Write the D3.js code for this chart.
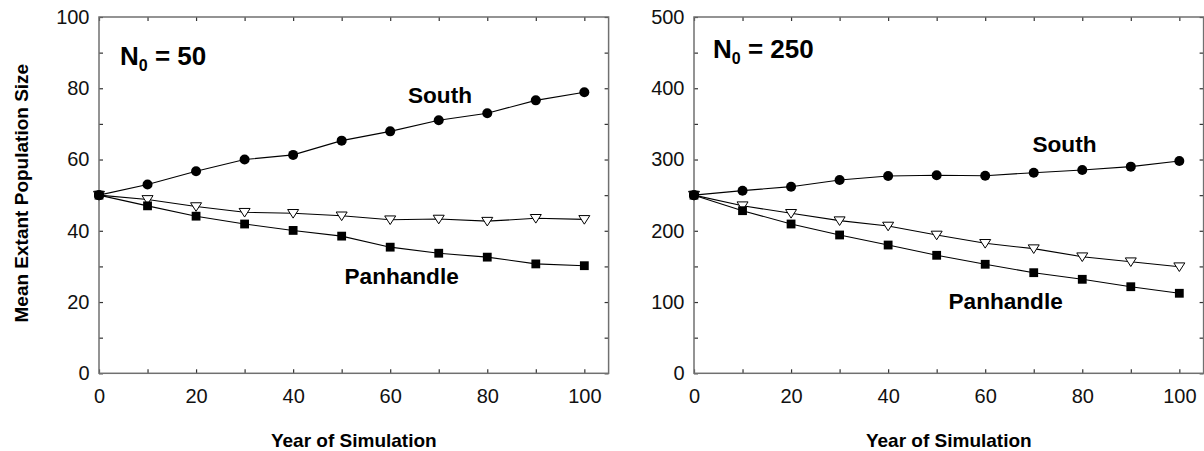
<!DOCTYPE html>
<html>
<head>
<meta charset="utf-8">
<script src="https://cdn.jsdelivr.net/npm/d3@7"></script>
<style>
  html, body { margin: 0; padding: 0; background: #fff; }
  svg { display: block; font-family: "Liberation Sans", Arial, Helvetica, sans-serif; }
</style>
</head>
<body>
<svg id="chart" width="1204" height="451"></svg>
<script>
// Simulation years (x values)
const years = [0, 10, 20, 30, 40, 50, 60, 70, 80, 90, 100];

// Mean extant population size, starting population N0 = 50
const south50 = [50, 53.0, 56.7, 60.0, 61.3, 65.3, 67.9, 71.0, 73.0, 76.6, 78.9];
const mid50   = [50, 48.8, 46.8, 45.2, 44.9, 44.2, 43.1, 43.3, 42.7, 43.5, 43.2];
const pan50   = [50, 47.0, 44.1, 41.9, 40.1, 38.5, 35.4, 33.7, 32.6, 30.7, 30.2];

// Mean extant population size, starting population N0 = 250
const south250 = [250, 256.3, 261.9, 271.3, 276.9, 277.9, 277.3, 281.5, 285.3, 290.0, 298.0];
const mid250   = [250, 235.2, 224.5, 214.2, 206.7, 194.1, 182.4, 174.9, 163.6, 156.6, 149.6];
const pan250   = [250, 228.2, 209.5, 194.1, 180.0, 165.6, 153.0, 141.2, 131.9, 121.5, 112.3];

// Tick values
const xTicks = [0, 10, 20, 30, 40, 50, 60, 70, 80, 90, 100];
const xTickLabels = [0, 20, 40, 60, 80, 100];
const yTicks50 = [0, 10, 20, 30, 40, 50, 60, 70, 80, 90, 100];
const yTickLabels50 = [0, 20, 40, 60, 80, 100];
const yTicks250 = [0, 50, 100, 150, 200, 250, 300, 350, 400, 450, 500];
const yTickLabels250 = [0, 100, 200, 300, 400, 500];

const svg = d3.select("#chart");

const panels = [
  {
    left: 99, right: 608.6, top: 17, bottom: 373.3,
    yMax: 100, yTicks: yTicks50, yLabels: yTickLabels50,
    series: [south50, mid50, pan50],
    n0: "50", n0Pos: [120, 65],
    southPos: [408, 103], panPos: [344.5, 284],
    yTitle: true
  },
  {
    left: 694, right: 1203.6, top: 17, bottom: 373.3,
    yMax: 500, yTicks: yTicks250, yLabels: yTickLabels250,
    series: [south250, mid250, pan250],
    n0: "250", n0Pos: [713, 58.3],
    southPos: [1032.5, 151.5], panPos: [948.5, 309.3],
    yTitle: false
  }
];

const tickLen = 4;
const frameColor = "#707070";

panels.forEach(p => {
  const x = d3.scaleLinear().domain([0, 105]).range([p.left, p.right]);
  const y = d3.scaleLinear().domain([0, p.yMax]).range([p.bottom, p.top]);
  const g = svg.append("g");

  // Inward-pointing ticks on all four sides
  const fmtX = d => xTickLabels.includes(d) ? d : "";
  const fmtY = d => p.yLabels.includes(d) ? d : "";

  const axB = g.append("g").attr("transform", `translate(0,${p.bottom})`)
    .call(d3.axisBottom(x).tickValues(xTicks).tickSize(-tickLen).tickPadding(16).tickFormat(fmtX));
  const axT = g.append("g").attr("transform", `translate(0,${p.top})`)
    .call(d3.axisTop(x).tickValues(xTicks).tickSize(-tickLen).tickFormat(""));
  const axL = g.append("g").attr("transform", `translate(${p.left},0)`)
    .call(d3.axisLeft(y).tickValues(p.yTicks).tickSize(-tickLen).tickPadding(9.5).tickFormat(fmtY));
  const axR = g.append("g").attr("transform", `translate(${p.right},0)`)
    .call(d3.axisRight(y).tickValues(p.yTicks).tickSize(-tickLen).tickFormat(""));

  [axB, axT, axL, axR].forEach(a => {
    a.select(".domain").remove();
    a.selectAll(".tick line").attr("stroke", "#333").attr("stroke-width", 1.2);
    a.selectAll(".tick text").attr("font-size", 20).attr("fill", "#111")
      .attr("font-family", "'Liberation Sans', Arial, sans-serif");
  });

  // Frame
  g.append("rect")
    .attr("x", p.left).attr("y", p.top)
    .attr("width", p.right - p.left).attr("height", p.bottom - p.top)
    .attr("fill", "none").attr("stroke", frameColor).attr("stroke-width", 1.5);

  // Lines
  const line = d3.line().x((d, i) => x(years[i])).y(d => y(d));
  p.series.forEach(s => {
    g.append("path").datum(s).attr("d", line)
      .attr("fill", "none").attr("stroke", "#000").attr("stroke-width", 1.1);
  });

  // South: filled circles
  g.selectAll(".south").data(p.series[0]).join("circle")
    .attr("cx", (d, i) => x(years[i])).attr("cy", d => y(d))
    .attr("r", 5).attr("fill", "#000");

  // Middle series: open downward triangles
  g.selectAll(".mid").data(p.series[1]).join("path")
    .attr("transform", (d, i) => `translate(${x(years[i])},${y(d)})`)
    .attr("d", "M-5.5,-3.8L5.5,-3.8L0,4.8Z")
    .attr("fill", "#fff").attr("stroke", "#000").attr("stroke-width", 1);

  // Panhandle: filled squares
  g.selectAll(".pan").data(p.series[2]).join("rect")
    .attr("x", (d, i) => x(years[i]) - 4.4).attr("y", d => y(d) - 4.4)
    .attr("width", 8.8).attr("height", 8.8).attr("fill", "#000");

  // Re-draw the shared starting point as a circle on top
  g.append("circle").attr("cx", x(years[0])).attr("cy", y(p.series[0][0]))
    .attr("r", 5).attr("fill", "#000");

  // N0 label
  const n0 = g.append("text").attr("x", p.n0Pos[0]).attr("y", p.n0Pos[1])
    .attr("font-size", 26).attr("font-weight", "bold").attr("fill", "#000");
  n0.append("tspan").text("N");
  n0.append("tspan").text("0").attr("font-size", 16).attr("dy", 6);
  n0.append("tspan").text(" = " + p.n0).attr("dy", -6);

  // Series labels
  g.append("text").attr("x", p.southPos[0]).attr("y", p.southPos[1])
    .attr("font-size", 22.6).attr("font-weight", "bold").text("South");
  g.append("text").attr("x", p.panPos[0]).attr("y", p.panPos[1])
    .attr("font-size", 22.6).attr("font-weight", "bold").text("Panhandle");

  // X axis title
  g.append("text").attr("x", (p.left + p.right) / 2).attr("y", 446.5)
    .attr("text-anchor", "middle").attr("font-size", 19).attr("font-weight", "bold")
    .text("Year of Simulation");

  // Y axis title
  if (p.yTitle) {
    g.append("text")
      .attr("transform", `translate(28,${(p.top + p.bottom) / 2 - 2}) rotate(-90)`)
      .attr("text-anchor", "middle").attr("font-size", 19).attr("font-weight", "bold")
      .text("Mean Extant Population Size");
  }
});
</script>
</body>
</html>
